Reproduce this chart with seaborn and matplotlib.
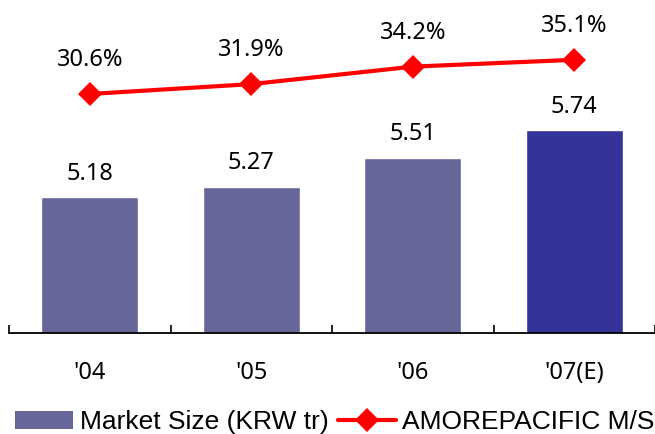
import matplotlib
matplotlib.use("Agg")
import matplotlib.pyplot as plt
import seaborn as sns
import pandas as pd
import numpy as np
from matplotlib.patches import Patch
from matplotlib.lines import Line2D

categories = ["'04", "'05", "'06", "'07(E)"]
market_size = [5.18, 5.27, 5.51, 5.74]
share = [30.6, 31.9, 34.2, 35.1]
share_labels = ["30.6%", "31.9%", "34.2%", "35.1%"]
size_labels = ["5.18", "5.27", "5.51", "5.74"]
bar_name = "Market Size (KRW tr)"
line_name = "AMOREPACIFIC M/S"

sns.set_theme(style="white")
plt.rcParams['font.family'] = ['Noto Sans', 'DejaVu Sans']
plt.rcParams['text.color'] = 'black'
plt.rcParams['xtick.color'] = 'black'
plt.rcParams['xtick.labelcolor'] = 'black'

fig = plt.figure(figsize=(6.55, 4.34), dpi=100)
ax = fig.add_axes([9/655, 101/434, 646/655, 333/434])

df = pd.DataFrame({"cat": categories, "size": market_size})
colors = ["#666699", "#666699", "#666699", "#333399"]
sns.barplot(data=df, x="cat", y="size", hue="cat", palette=colors,
            width=0.6, legend=False, ax=ax, saturation=1)
ax.set_ylim(4.05, 6.825)
ax.set_xlim(-0.5, 3.5)
ax.set_xlabel("")
ax.set_ylabel("")
ax.set_yticks([])
for s in ["left", "right", "top"]:
    ax.spines[s].set_visible(False)
ax.spines["bottom"].set_color("black")
ax.spines["bottom"].set_linewidth(1.3)
ax.set_xticks(range(len(categories)))
ax.set_xticklabels(categories, fontsize=17, color="black")
ax.tick_params(axis="x", which="major", bottom=True, length=0, pad=20)
ax.set_xticks([-0.5, 0.5, 1.5, 2.5, 3.5], minor=True)
ax.tick_params(axis="x", which="minor", bottom=True, direction="in",
               length=6, width=1.2, color="black")

for i, (v, lab) in enumerate(zip(market_size, size_labels)):
    ax.annotate(lab, (i, v), xytext=(0, 17), textcoords="offset points",
                ha="center", va="center", fontsize=17, color="black")

ax2 = ax.twinx()
sns.lineplot(x=np.arange(len(share)), y=share, ax=ax2, color="#ff0000",
             linewidth=3, marker="D", markersize=12, markeredgewidth=0)
ax2.set_ylim(-0.85, 42.97)
ax2.set_yticks([])
ax2.set_ylabel("")
for s in ["left", "right", "top", "bottom"]:
    ax2.spines[s].set_visible(False)

for i, (v, lab) in enumerate(zip(share, share_labels)):
    ax2.annotate(lab, (i, v), xytext=(0, 24.5), textcoords="offset points",
                 ha="center", va="center", fontsize=17, color="black")

handles = [Patch(facecolor="#666699", edgecolor="none"),
           Line2D([0], [0], color="#ff0000", linewidth=3, marker="D",
                  markersize=12, markeredgewidth=0)]
leg = fig.legend(handles, [bar_name, line_name], loc="center",
                 bbox_to_anchor=(0.511, 12/434), ncol=2, frameon=False,
                 prop={"family": "Liberation Sans", "size": 19},
                 handlelength=2.2, handletextpad=0.25, columnspacing=0.35,
                 borderpad=0, borderaxespad=0)
for t in leg.get_texts():
    t.set_color("black")

fig.savefig("out.png", dpi=100)
